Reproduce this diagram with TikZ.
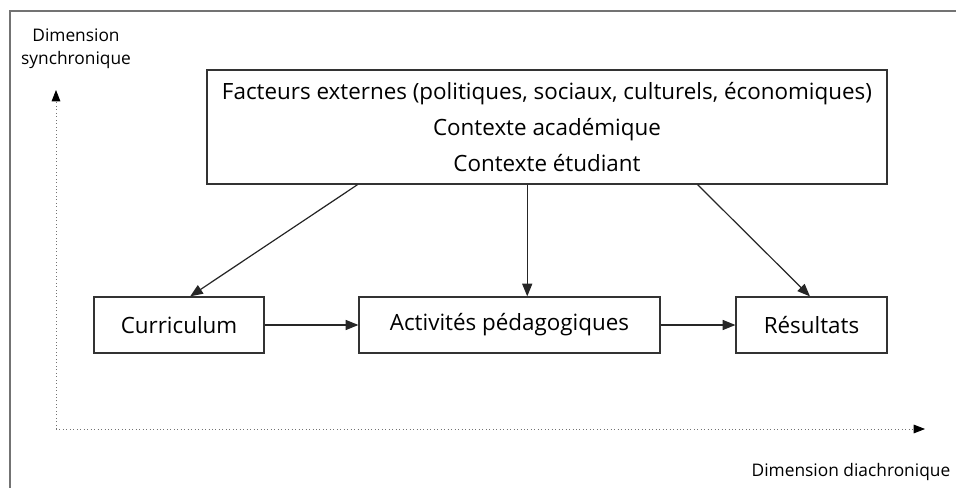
\documentclass[tikz,border=0pt]{standalone}
\usepackage{fontspec}
\setmainfont{Open Sans}
\usetikzlibrary{calc,arrows.meta}
\tikzset{
  boite/.style={draw=black!80, line width=0.9pt, inner sep=0pt, align=center},
  fleche/.style={draw=black!85, line width=0.9pt, -{Triangle[length=9.5pt,width=7.5pt]}},
  axe/.style={draw=black!55, line width=0.6pt, dotted, -{Triangle[length=8.5pt,width=6.5pt,black]}},
  grand/.style={font=\fontsize{16.8}{27}\selectfont},
  petit/.style={font=\fontsize{13}{17.25}\selectfont}
}
\begin{document}
\begin{tikzpicture}[x=0.75pt,y=-0.75pt]
\useasboundingbox (0,0) rectangle (956,488);
% cadre
\draw[black!55, line width=1.1pt] (10,520) -- (10,11) -- (990,11);
% axes
\coordinate (origine) at (56,429);
\coordinate (haut) at (56,90);
\coordinate (droite) at (925,429);
\draw[axe] (origine) -- (haut);
\draw[axe] (origine) -- (droite);
\node[petit, align=center, anchor=base] (sync) at (76,65) {Dimension\\synchronique};
\node[petit, anchor=base west] (diach) at (747,476) {Dimension diachronique};
% boites
\node[boite, grand, minimum width=510pt, minimum height=85.5pt] (ext) at (547,127)
  {Facteurs externes (politiques, sociaux, culturels, économiques)\\Contexte académique\\Contexte étudiant};
\node[boite, grand, minimum width=127.5pt, minimum height=42pt] (curr) at (179,325) {Curriculum};
\node[boite, grand, minimum width=225.75pt, minimum height=42pt] (act) at (509.5,325) {Activités pédagogiques};
\node[boite, grand, minimum width=113.25pt, minimum height=42pt] (res) at (811.5,325) {Résultats};
% fleches
\coordinate (extg) at ($(ext.south west)!0.222!(ext.south east)$);
\coordinate (extm) at ($(ext.south west)!0.471!(ext.south east)$);
\coordinate (extd) at ($(ext.south west)!0.721!(ext.south east)$);
\draw[fleche] (extg) -- ($(curr.north west)!0.565!(curr.north east)$);
\draw[fleche] (extm) -- (extm |- act.north);
\draw[fleche] (extd) -- ($(res.north west)!0.49!(res.north east)$);
\draw[fleche] (curr) -- (act);
\draw[fleche] (act) -- (res);
\end{tikzpicture}
\end{document}
